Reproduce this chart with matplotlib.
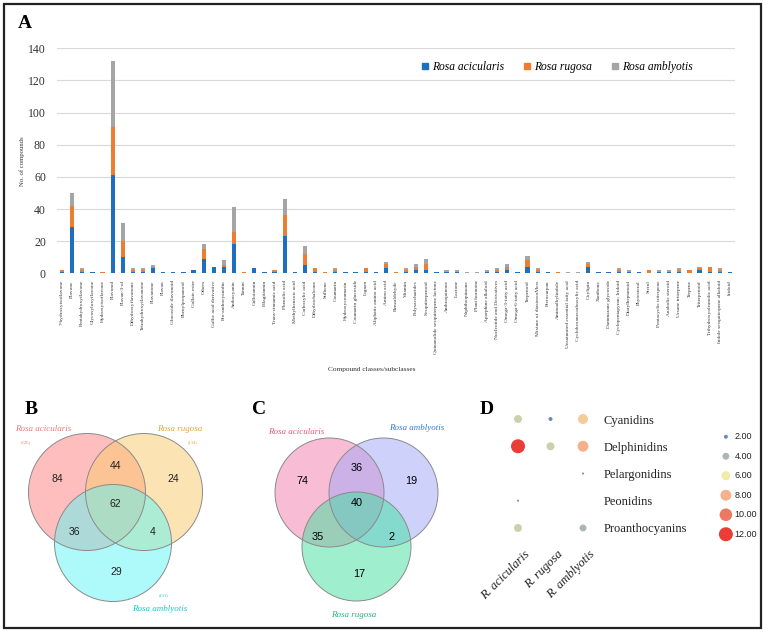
import numpy as np
import matplotlib
matplotlib.use("Agg")
import matplotlib.pyplot as plt
from matplotlib.patches import Circle, Rectangle
from matplotlib.lines import Line2D
from matplotlib.colors import LinearSegmentedColormap, Normalize
from matplotlib.transforms import ScaledTranslation

# ---------------- data ----------------
categories = ["7-hydroxyisoflavone", "Flavone", "Pentahydroxyflavone", "Glycosyloxyflavone",
              "Hydroxyisoflavone", "Flavonol", "Flavan-3-ol", "Dihydroxyflavanone",
              "Tetrahydroxyflavanone", "Flavanone", "Flavan", "Glucoside flavonoid",
              "Phenylpropanoid", "Gallate ester", "Others", "Gallic acid derivative",
              "Pro-anthocyanidin", "Anthocyanin", "Tannin", "Gallotannin", "Ellagitannin",
              "Trans-cinnamic acid", "Phenolic acid", "Methylbenzoic acid", "Carboxylic acid",
              "Dihydrochalcone", "Stilbene", "Coumarin", "Hydroxycoumarin", "Coumarin glucoside",
              "Lignan", "Aliphatic amino acid", "Amino acid", "Benzaldehyde", "Vitamin",
              "Polysaccharides", "Sesquiterpenoid", "Quinanolide sesquiterpene lactone",
              "Anthraquinone", "Lactone", "Naphthoquinone", "Plant hormone", "Aporphine alkaloid",
              "Nucleotide and Derivatives", "Omega-3-fatty acid", "Omega-6-fatty acid", "Terpenoid",
              "Mixture of diastereoMers", "Pterocarpan", "Aminoalkylindole",
              "Unsaturated essential fatty acid", "Cyclohexanecarboxylic acid", "Oxylipin",
              "Xanthone", "Dammarane glycoside", "Cyclopentapyran; Iridoid", "Diarylheptanoid",
              "Phytosterol", "Sterol", "Pentacyclic triterpene", "Anabolic steroid",
              "Ursane triterpene", "Terpene", "Triterpenoid", "Trihydroxyoleanolic acid",
              "Indole sesquiterpene alkaloid", "Iridoid"]
acicularis = [1, 29, 1, 1, 0, 61, 10, 1, 1, 3, 1, 1, 1, 2, 9, 4, 4, 18, 0, 3, 1, 1, 23, 1, 5,
              1, 0, 1, 1, 1, 1, 1, 3, 0, 1, 2, 2, 1, 1, 1, 0, 0, 1, 1, 2, 1, 4, 1, 1, 0, 0, 0,
              4, 1, 1, 1, 1, 1, 0, 1, 1, 1, 0, 2, 1, 1, 1]
rugosa = [1, 13, 1, 0, 1, 30, 10, 1, 1, 1, 0, 0, 0, 0, 6, 0, 1, 8, 1, 0, 0, 1, 13, 0, 7,
          2, 1, 1, 0, 0, 2, 0, 3, 1, 1, 2, 4, 0, 0, 0, 0, 0, 0, 1, 2, 0, 4, 1, 0, 1, 0, 0,
          2, 0, 0, 1, 0, 0, 2, 0, 0, 1, 2, 1, 3, 1, 0]
amblyotis = [0, 8, 1, 0, 0, 41, 11, 1, 1, 1, 0, 0, 0, 0, 3, 0, 3, 15, 0, 0, 0, 0, 10, 0, 5,
             0, 0, 1, 0, 0, 0, 0, 1, 0, 1, 2, 3, 0, 1, 1, 1, 1, 1, 1, 2, 0, 3, 1, 0, 0, 1, 1,
             1, 0, 0, 1, 1, 0, 0, 1, 1, 1, 0, 1, 0, 1, 0]
species = ["Rosa acicularis", "Rosa rugosa", "Rosa amblyotis"]
yticks = [0, 20, 40, 60, 80, 100, 120, 140]

# Venn B (acicularis, rugosa, amblyotis)
venn_b = {"A": 84, "AB": 44, "B": 24, "ABC": 62, "AC": 36, "BC": 4, "C": 29}
venn_b_totals = [226, 134, 131]
# Venn C (acicularis, amblyotis, rugosa)
venn_c = {"A": 74, "AB": 36, "B": 19, "ABC": 40, "AC": 35, "BC": 2, "C": 17}

# Bubble D
anthocyanins = ["Cyanidins", "Delphinidins", "Pelargonidins", "Peonidins", "Proanthocyanins"]
bubble_species = ["R. acicularis", "R. rugosa", "R. amblyotis"]
bubble_vals = [[5, 2, 7],
               [12, 5, 8],
               [0, 0, 1],
               [1, 0, 0],
               [5, 0, 4]]
legend_vals = [2, 4, 6, 8, 10, 12]

# ---------------- figure ----------------
W, H = 770, 638
fig = plt.figure(figsize=(W / 100, H / 100), dpi=100)
SERIF = "Liberation Serif"
SANS = "Liberation Sans"


def ax_px(l, t, r, b, **kw):
    return fig.add_axes([l / W, 1 - b / H, (r - l) / W, (b - t) / H], **kw)


# border
fig.patches.append(Rectangle((4 / W, 1 - 628 / H), 757 / W, 624 / H, transform=fig.transFigure,
                             fill=False, edgecolor="#222222", linewidth=1.6))

# ---------------- Panel A ----------------
axA = ax_px(57, 48.3, 735, 273.3)
x = np.arange(len(categories))
a = np.array(acicularis)
r = np.array(rugosa)
m = np.array(amblyotis)
cols = ["#1f6fc0", "#ed7d31", "#a5a5a5"]
bw = 0.42
axA.bar(x, a, bw, color=cols[0], zorder=3)
axA.bar(x, r, bw, bottom=a, color=cols[1], zorder=3)
axA.bar(x, m, bw, bottom=a + r, color=cols[2], zorder=3)
axA.set_xlim(-0.5, len(categories) - 0.5)
axA.set_ylim(0, 140)
axA.set_yticks(yticks)
axA.set_yticklabels([str(v) for v in yticks], fontfamily=SERIF, fontsize=8.5, color="#333333")
axA.yaxis.grid(True, color="#d9d9d9", linewidth=0.8, zorder=0)
axA.set_axisbelow(True)
for s in axA.spines.values():
    s.set_visible(False)
axA.axhline(0, color="#d9d9d9", linewidth=0.8, zorder=1)
axA.tick_params(axis="y", length=0, pad=8)
axA.set_xticks(x)
axA.set_xticklabels(categories, rotation=90, fontfamily=SERIF, fontsize=3.9, color="#333333",
                    va="top", ha="center")
axA.tick_params(axis="x", length=0, pad=5)
axA.set_ylabel("No. of compounds", fontfamily=SERIF, fontsize=4.8, color="#333333", labelpad=2)
fig.text(372 / W, 1 - 370 / H, "Compound classes/subclasses", fontfamily=SERIF, fontsize=5.3,
         color="#333333", ha="center", va="center")
handles = [Line2D([], [], marker="s", linestyle="none", markersize=4, color=c) for c in cols]
axA.legend(handles, species, loc="center", bbox_to_anchor=(0.737, 0.916), ncol=3, frameon=False,
           prop={"family": SERIF, "style": "italic", "size": 8.3}, handletextpad=0.2,
           columnspacing=1.6, handlelength=0.8)
fig.text(18 / W, 1 - 24 / H, "A", fontfamily=SERIF, fontweight="bold", fontsize=14,
         ha="left", va="center")

# ---------------- overlay axes for Venn diagrams ----------------
ov = fig.add_axes([0, 0, 1, 1], zorder=-1)
ov.set_xlim(0, W)
ov.set_ylim(H, 0)
ov.axis("off")


def venn(centers, rad, fills, counts, fsize, color="#222222"):
    for (cx, cy), fc in zip(centers, fills):
        ov.add_patch(Circle((cx, cy), rad, facecolor=fc, alpha=0.5, edgecolor="none"))
    for (cx, cy) in centers:
        ov.add_patch(Circle((cx, cy), rad, facecolor="none", edgecolor="#8a8a8a", linewidth=0.7))
    (ax1, ay1), (bx1, by1), (cx1, cy1) = centers
    pos = {
        "A": (ax1 - 0.5 * rad, ay1 - 0.22 * rad),
        "AB": ((ax1 + bx1) / 2, ay1 - 0.45 * rad),
        "B": (bx1 + 0.5 * rad, by1 - 0.22 * rad),
        "ABC": ((ax1 + bx1) / 2, ay1 + 0.2 * rad),
        "AC": (ax1 - 0.22 * rad, cy1 - 0.18 * rad),
        "BC": (bx1 + 0.15 * rad, cy1 - 0.18 * rad),
        "C": (cx1 + 0.05 * rad, cy1 + 0.5 * rad),
    }
    for k, v in counts.items():
        px, py = pos[k]
        ov.text(px, py, str(v), ha="center", va="center", fontfamily=SANS, fontsize=fsize,
                color=color)


# Panel B
venn([(87, 492), (144, 492), (113, 543)], 58.5, ["#ff7f7f", "#fbc96b", "#5ff5f5"], venn_b, 7.5)
fig.text(25 / W, 1 - 410 / H, "B", fontfamily=SERIF, fontweight="bold", fontsize=14,
         ha="left", va="center")
ov.text(43, 429, species[0], fontfamily=SERIF, style="italic", fontsize=6.5, color="#f07a7a",
        ha="center", va="center")
ov.text(26, 442, f"({venn_b_totals[0]})", fontfamily=SERIF, fontsize=3.3, color="#f07a7a",
        ha="center", va="center")
ov.text(180, 429, species[1], fontfamily=SERIF, style="italic", fontsize=6.5, color="#e8a43a",
        ha="center", va="center")
ov.text(193, 442, f"({venn_b_totals[1]})", fontfamily=SERIF, fontsize=3.3, color="#e8a43a",
        ha="center", va="center")
ov.text(160, 609, species[2], fontfamily=SERIF, style="italic", fontsize=6.5, color="#22c4c4",
        ha="center", va="center")
ov.text(164, 595, f"({venn_b_totals[2]})", fontfamily=SERIF, fontsize=3.3, color="#22c4c4",
        ha="center", va="center")

# Panel C
venn([(329.5, 492.5), (383.5, 492.5), (356.5, 546.5)], 54.5, ["#f27cab", "#9fa6f8", "#40e0a0"],
     venn_c, 7.8, color="#000000")
fig.text(252 / W, 1 - 410 / H, "C", fontfamily=SERIF, fontweight="bold", fontsize=14,
         ha="left", va="center")
ov.text(296, 432, species[0], fontfamily=SERIF, style="italic", fontsize=6.5, color="#ea5a78",
        ha="center", va="center")
ov.text(417, 428, species[2], fontfamily=SERIF, style="italic", fontsize=6.5, color="#3a7ac8",
        ha="center", va="center")
ov.text(354, 615, species[1], fontfamily=SERIF, style="italic", fontsize=6.5, color="#22b585",
        ha="center", va="center")

# ---------------- Panel D ----------------
fig.text(480 / W, 1 - 410 / H, "D", fontfamily=SERIF, fontweight="bold", fontsize=14,
         ha="left", va="center")
cmap = LinearSegmentedColormap.from_list(
    "bub", [(0.0, "#5a7fb0"), (0.2, "#a4b0a8"), (0.4, "#f0e8a0"), (0.6, "#f4a880"),
            (0.8, "#ec6850"), (1.0, "#e82820")])
norm = Normalize(2, 12)


def diam_pt(v):
    v = np.asarray(v, dtype=float)
    d_px = np.clip(-2.9 + 4.88 * np.sqrt(v), 2.0, None)
    return d_px * 0.72


axD = ax_px(501.75, 405.4, 599.25, 541.6)
vals = np.array(bubble_vals, dtype=float)
for i, row in enumerate(vals):
    for j, v in enumerate(row):
        if v > 0:
            axD.scatter([j], [i], s=diam_pt(v) ** 2, color=cmap(norm(v)), edgecolors="none",
                        alpha=0.9)
axD.set_xlim(-0.5, len(bubble_species) - 0.5)
axD.set_ylim(len(anthocyanins) - 0.5, -0.5)
for s in axD.spines.values():
    s.set_visible(False)
axD.yaxis.tick_right()
axD.set_yticks(range(len(anthocyanins)))
axD.set_yticklabels(anthocyanins, fontfamily=SERIF, fontsize=9, color="#222222")
axD.tick_params(axis="y", length=0, pad=3)
axD.set_xticks(range(len(bubble_species)))
axD.set_xticklabels(bubble_species, rotation=45, ha="right", va="top", rotation_mode="anchor",
                    fontfamily=SERIF, style="italic", fontsize=9, color="#222222")
axD.tick_params(axis="x", length=0, pad=5)
off = ScaledTranslation(6 / 100, 0, fig.dpi_scale_trans)
for lab in axD.get_xticklabels():
    lab.set_transform(lab.get_transform() + off)

# size / colour legend
axL = ax_px(716, 427, 768, 544)
axL.set_xlim(0, 1)
axL.set_ylim(len(legend_vals) - 0.5, -0.5)
axL.axis("off")
for k, v in enumerate(legend_vals):
    axL.scatter([0.19], [k], s=diam_pt(v) ** 2, color=cmap(norm(v)), edgecolors="none", alpha=0.9)
    axL.text(0.36, k, f"{v:.2f}", fontfamily=SANS, fontsize=6.5, color="#222222",
             ha="left", va="center")

fig.savefig("out.png", dpi=100)
